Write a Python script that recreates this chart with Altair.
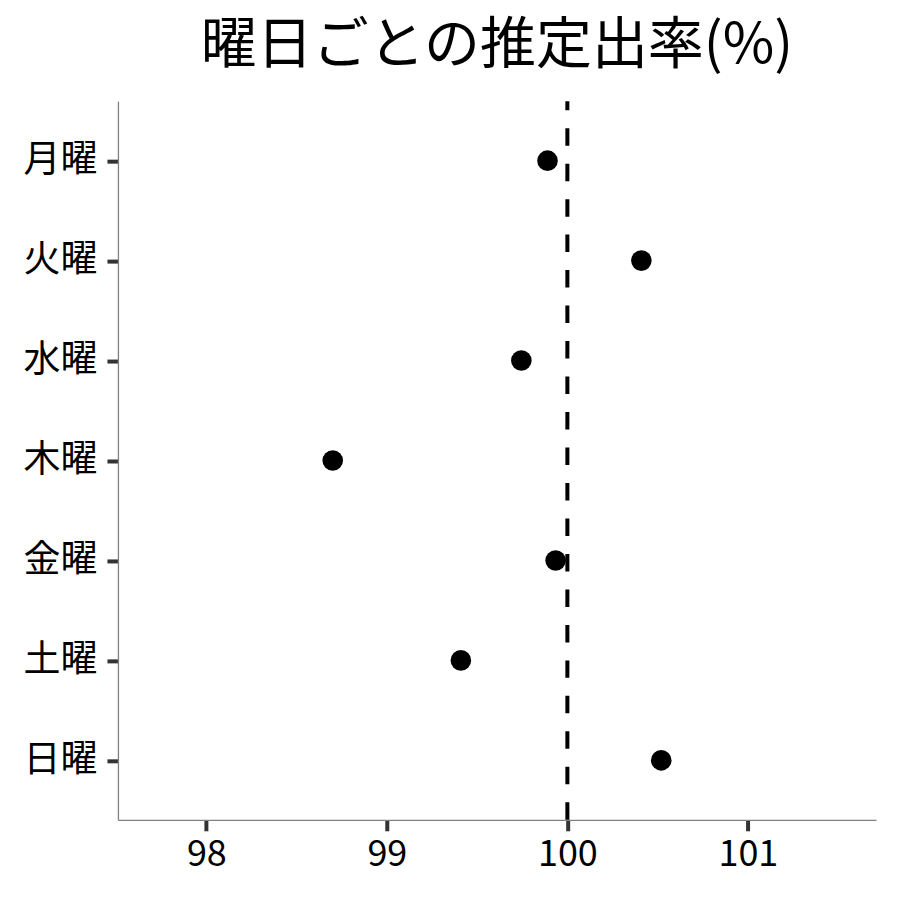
import altair as alt
import pandas as pd

days = ["月曜", "火曜", "水曜", "木曜", "金曜", "土曜", "日曜"]
rates = [99.89, 100.41, 99.745, 98.70, 99.935, 99.41, 100.52]
ref_value = [100]
x_ticks = [98, 99, 100, 101]
title_text = "曜日ごとの推定出率(%)"

df = pd.DataFrame({"day": days, "rate": rates})
ref = pd.DataFrame({"ref": ref_value})

FONT = "Noto Sans CJK JP"
W, H = 758.5, 719

xscale = alt.Scale(domain=[97.51, 101.71], nice=False, zero=False)
yscale = alt.Scale(type="point", domain=days, padding=0.595)

x_axis = alt.Axis(values=x_ticks, title=None, grid=False, format="d",
                  labelFontSize=36, labelFont=FONT, labelColor="black",
                  labelPadding=7, tickSize=11, tickWidth=4, tickColor="#333333",
                  domainColor="#808080", domainWidth=1.3)
y_axis = alt.Axis(title=None, grid=False,
                  labelFontSize=37, labelFont=FONT, labelColor="black",
                  labelPadding=10, tickSize=11, tickWidth=4, tickColor="#333333",
                  domainColor="#808080", domainWidth=1.3)

rule = alt.Chart(ref).mark_rule(color="black", strokeWidth=4, strokeDash=[17.5, 18]).encode(
    x=alt.X("ref:Q", scale=xscale, axis=x_axis),
    y=alt.value(H),
    y2=alt.value(0),
)

points = alt.Chart(df).mark_circle(size=425, color="black", opacity=1).encode(
    x=alt.X("rate:Q", scale=xscale, axis=x_axis),
    y=alt.Y("day:N", scale=yscale, sort=days, axis=y_axis),
)

chart = (rule + points).properties(
    width=W,
    height=H,
    autosize=alt.AutoSizeParams(type="none"),
    padding={"left": 110, "top": 93, "right": 16, "bottom": 72},
    title=alt.TitleParams(text=title_text, fontSize=56, font=FONT, fontWeight="normal",
                          color="black", anchor="middle", offset=24),
).configure(
    background="white"
).configure_view(
    stroke=None
).configure_axis(
    tickWidth=4, tickSize=11, tickColor="#333333", domainColor="#808080", domainWidth=1.3
)

chart.save("out.html", embed_options={"renderer": "svg", "actions": False})
